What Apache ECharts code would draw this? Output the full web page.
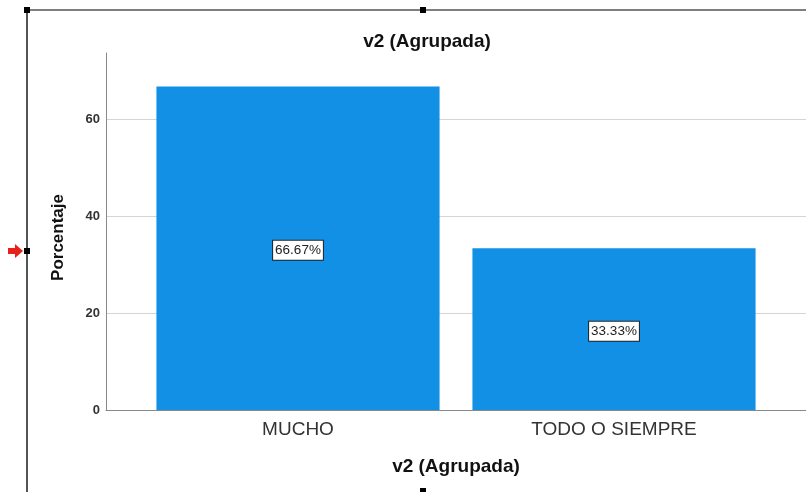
<!DOCTYPE html>
<html>
<head>
<meta charset="utf-8">
<script src="https://cdn.jsdelivr.net/npm/echarts@6/dist/echarts.min.js"></script>
<style>
  html, body { margin: 0; padding: 0; background: #fff; }
  #my_chart { width: 806px; height: 492px; }
</style>
</head>
<body>
<div id="my_chart"></div>
<script>
  // datos
  var categories = ['MUCHO', 'TODO O SIEMPRE'];
  var porcentajes = [66.67, 33.33];
  var yTicks = [0, 20, 40, 60];

  var my_chart = echarts.init(document.getElementById('my_chart'));
  var font = '"Liberation Sans", Arial, sans-serif';

  my_chart.setOption({
    animation: false,
    title: {
      text: 'v2 (Agrupada)',
      left: 422, top: 27, textAlign: 'center',
      textStyle: { fontFamily: font, fontSize: 19, fontWeight: 'bold', color: '#111' }
    },
    grid: [
      { left: 106, right: 0, top: 53, bottom: 82 },
      { left: 140, right: 34, top: 53, bottom: 82 }
    ],
    xAxis: [{
      gridIndex: 0, type: 'value', min: 0, max: 1,
      name: 'v2 (Agrupada)', nameLocation: 'middle', nameGap: 47,
      nameTextStyle: { fontFamily: font, fontSize: 19, fontWeight: 'bold', color: '#111' },
      axisLine: { show: true, lineStyle: { color: '#888', width: 1 } },
      axisTick: { show: false }, axisLabel: { show: false }, splitLine: { show: false }
    }, {
      gridIndex: 1, type: 'category', data: categories,
      axisLine: { show: false }, axisTick: { show: false },
      axisLabel: { fontFamily: font, fontSize: 19, color: '#333', margin: 10 }
    }],
    yAxis: [{
      gridIndex: 0, type: 'value', min: 0, max: 73.6, interval: 20,
      name: 'Porcentaje', nameLocation: 'middle', nameGap: 39,
      nameTextStyle: { fontFamily: font, fontSize: 17, fontWeight: 'bold', color: '#111', padding: [0, 12, 0, 0] },
      axisLine: { show: true, lineStyle: { color: '#888', width: 1 } },
      axisTick: { show: false },
      axisLabel: {
        fontFamily: font, fontSize: 13, fontWeight: 'bold', color: '#333', margin: 6,
        formatter: function (v) { return yTicks.indexOf(v) >= 0 ? String(v) : ''; }
      },
      splitLine: { show: true, showMinLine: false, showMaxLine: false, lineStyle: { color: '#d4d4d4', width: 1 } }
    }, {
      gridIndex: 1, type: 'value', min: 0, max: 73.6, show: false
    }],
    series: [{
      type: 'bar', xAxisIndex: 1, yAxisIndex: 1,
      data: porcentajes,
      barCategoryGap: '10.4%',
      itemStyle: { color: '#1290E6' },
      label: {
        show: true, position: 'inside', offset: [0, 2],
        formatter: function (p) { return p.value.toFixed(2) + '%'; },
        fontFamily: font, fontSize: 13.5, color: '#222',
        backgroundColor: '#fff', borderColor: '#222', borderWidth: 1,
        padding: [3, 2, 2, 2]
      }
    }],
    graphic: [
      { type: 'line', shape: { x1: 27, y1: 10, x2: 27, y2: 492 }, style: { stroke: '#555', lineWidth: 2 } },
      { type: 'line', shape: { x1: 27, y1: 10, x2: 806, y2: 10 }, style: { stroke: '#555', lineWidth: 1.5 } },
      { type: 'rect', shape: { x: 24, y: 7, width: 6, height: 6 }, style: { fill: '#000' } },
      { type: 'rect', shape: { x: 420, y: 7, width: 6, height: 6 }, style: { fill: '#000' } },
      { type: 'rect', shape: { x: 24, y: 248, width: 6, height: 6 }, style: { fill: '#000' } },
      { type: 'rect', shape: { x: 420, y: 488, width: 6, height: 6 }, style: { fill: '#000' } },
      { type: 'polygon', shape: { points: [[8, 248], [15, 248], [15, 244], [23, 251], [15, 258], [15, 254], [8, 254]] }, style: { fill: '#e8201a' } }
    ]
  });
</script>
</body>
</html>
